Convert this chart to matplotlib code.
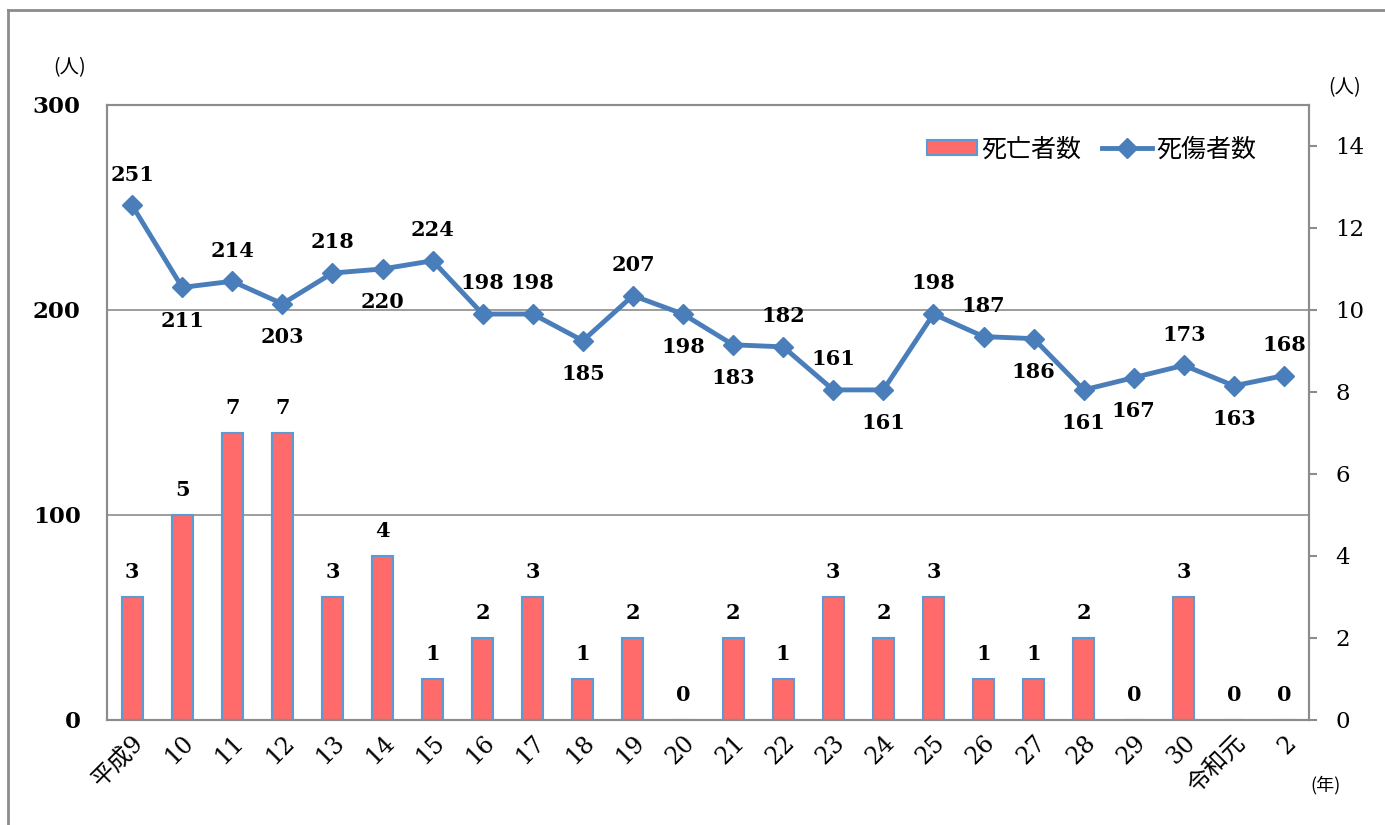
import matplotlib.pyplot as plt
from matplotlib.lines import Line2D

years = ['平成9', '10', '11', '12', '13', '14', '15', '16', '17', '18', '19', '20',
         '21', '22', '23', '24', '25', '26', '27', '28', '29', '30', '令和元', '2']
deaths = [3, 5, 7, 7, 3, 4, 1, 2, 3, 1, 2, 0, 2, 1, 3, 2, 3, 1, 1, 2, 0, 3, 0, 0]
casualties = [251, 211, 214, 203, 218, 220, 224, 198, 198, 185, 207, 198,
              183, 182, 161, 161, 198, 187, 186, 161, 167, 173, 163, 168]
# 1 = label above the point, -1 = below
label_side = [1, -1, 1, -1, 1, -1, 1, 1, 1, -1, 1, -1,
              -1, 1, 1, -1, 1, 1, -1, -1, -1, 1, -1, 1]

serif = ['DejaVu Serif', 'Noto Sans CJK JP']
jp = ['Noto Sans CJK JP', 'DejaVu Sans']
gray = '#8c8c8c'
line_c = '#4a7ebb'
bar_c = '#ff6b6b'
edge_c = '#5b9bd5'

fig = plt.figure(figsize=(13.85, 8.25), dpi=100)
ax = fig.add_axes([0.0773, 0.1273, 0.8679, 0.7455])
ax2 = ax.twinx()
ax.set_zorder(ax2.get_zorder() + 1)
ax.patch.set_visible(False)

x = list(range(len(years)))

# bars on right axis
ax2.bar(x, deaths, width=0.42, color=bar_c, edgecolor=edge_c, linewidth=1.5,
        zorder=2, label='死亡者数')
for y in (5, 10):
    ax2.axhline(y, color=gray, lw=1.2, zorder=0)
for xi, d in zip(x, deaths):
    ax2.annotate(str(d), (xi, d), xytext=(0, 18), textcoords='offset points',
                 ha='center', va='center', fontsize=15, fontweight='bold',
                 family=serif)
ax2.set_ylim(0, 15)
ax2.set_yticks(range(0, 15, 2))

# line on left axis
ax.plot(x, casualties, color=line_c, lw=3.5, marker='D', markersize=10,
        zorder=3, label='死傷者数')
for xi, c, s in zip(x, casualties, label_side):
    ax.annotate(str(c), (xi, c), xytext=(0, 22 * s + (-2 if s < 0 else 0)),
                textcoords='offset points', ha='center', va='center',
                fontsize=15, fontweight='bold', family=serif)
ax.set_ylim(0, 300)
ax.set_yticks([0, 100, 200, 300])
ax.set_xlim(-0.5, len(years) - 0.5)
ax.set_xticks(x)
ax.set_xticklabels(years, rotation=45, ha='right', rotation_mode='anchor',
                   fontsize=17, family=serif)

for a in (ax, ax2):
    for sp in a.spines.values():
        sp.set_color(gray)
        sp.set_linewidth(1.5)

ax.tick_params(axis='y', length=0, pad=19, labelsize=16.5)
ax.tick_params(axis='x', length=0, pad=8)
ax2.tick_params(axis='y', length=6, width=1.5, color=gray, pad=13, labelsize=16.5)
for lab in ax.get_yticklabels():
    lab.set_family(serif)
    lab.set_fontweight('bold')
for lab in ax2.get_yticklabels():
    lab.set_family(serif)

fig.text(70 / 1385, 1 - 68 / 825, '(人)', ha='center', va='center',
         fontsize=14, family=jp)
fig.text(1345 / 1385, 1 - 88 / 825, '(人)', ha='center', va='center',
         fontsize=14, family=jp)
fig.text(1325 / 1385, 1 - 785 / 825, '(年)', ha='center', va='center',
         fontsize=13, family=jp)

h1, l1 = ax2.get_legend_handles_labels()
h2, l2 = ax.get_legend_handles_labels()
ax.legend(h1 + h2, l1 + l2, loc='upper right', bbox_to_anchor=(0.975, 0.985),
          ncol=2, frameon=False, prop={'family': jp, 'size': 18},
          handlelength=2.0, handleheight=0.55, columnspacing=0.8,
          handletextpad=0.2)

# outer frame (top and left)
fig.add_artist(Line2D([8 / 1385, 8 / 1385], [0, 1 - 10 / 825], color=gray, lw=2))
fig.add_artist(Line2D([8 / 1385, 1], [1 - 10 / 825, 1 - 10 / 825], color=gray, lw=2))

fig.savefig('out.png', dpi=100)
